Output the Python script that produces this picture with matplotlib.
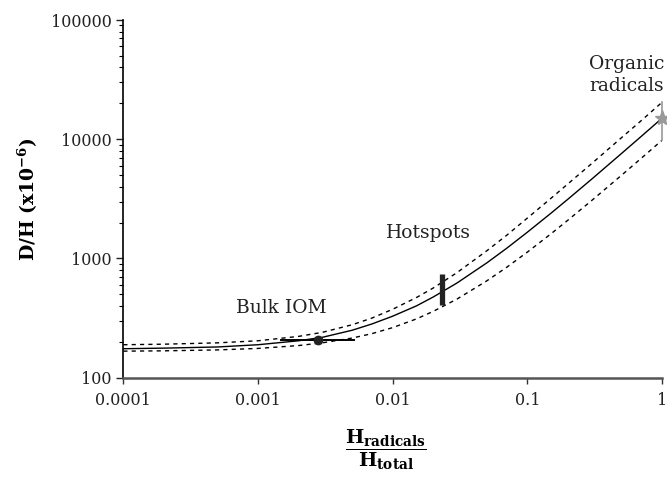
import numpy as np
import matplotlib
matplotlib.use('Agg')
import matplotlib.pyplot as plt

plt.rcParams['font.family'] = ['DejaVu Serif']
plt.rcParams['mathtext.fontset'] = 'dejavuserif'

# values
h_frac = [0.0001, 0.0002, 0.0005, 0.001, 0.002, 0.003, 0.005, 0.007, 0.01, 0.015,
          0.02, 0.03, 0.05, 0.07, 0.1, 0.15, 0.2, 0.3, 0.5, 0.7, 1.0]
dh_mix = [175, 177, 181, 189, 204, 218, 250, 282, 328, 400,
          475, 622, 918, 1214, 1660, 2400, 3140, 4620, 7590, 10550, 15000]
dh_upper = [189, 191, 196, 204, 222, 240, 278, 316, 375, 470,
            565, 760, 1160, 1560, 2180, 3200, 4220, 6240, 10300, 14300, 20400]
dh_lower = [167, 168, 171, 176, 186, 196, 215, 234, 263, 311,
            360, 456, 649, 841, 1130, 1612, 2094, 3057, 4984, 6910, 9800]

tick_vals = [0.0001, 0.001, 0.01, 0.1, 1]
tick_labels = ['0.0001', '0.001', '0.01', '0.1', '1']

# Bulk IOM point and its x range
iom_x, iom_y = 0.0028, 208
iom_xlo, iom_xhi = 0.00147, 0.0052

# Hotspots range
hot_x = 0.0233
hot_ylo, hot_yhi = 408, 736

# Organic radicals
rad_x, rad_y = 1.0, 15000
rad_ylo, rad_yhi = 9800, 20400

fig = plt.figure(figsize=(6.67, 4.79), dpi=100)
ax = fig.add_axes([0.1849, 0.2115, 0.8076, 0.7467])

ax.plot(h_frac, dh_mix, color='black', lw=1.0)
ax.plot(h_frac, dh_upper, color='black', lw=1.0, ls=(0, (3, 3)))
ax.plot(h_frac, dh_lower, color='black', lw=1.0, ls=(0, (3, 3)))

ax.plot([iom_xlo, iom_xhi], [iom_y, iom_y], color='black', lw=1.4)
ax.plot(iom_x, iom_y, 'o', color='#222222', ms=6)

ax.plot([hot_x, hot_x], [hot_ylo, hot_yhi], color='#222222', lw=3.8, solid_capstyle='butt')

ax.plot([rad_x, rad_x], [rad_ylo, rad_yhi], color='#999999', lw=1.2, clip_on=False)
ax.plot(rad_x, rad_y, '*', color='#999999', ms=11, clip_on=False)

ax.set_xscale('log')
ax.set_yscale('log')
ax.set_xlim(0.0001, 1)
ax.set_ylim(100, 100000)
ax.set_xticks(tick_vals)
ax.set_xticklabels(tick_labels)
ax.xaxis.set_minor_locator(matplotlib.ticker.NullLocator())
ax.set_yticks([100, 1000, 10000, 100000])
ax.set_yticklabels(['100', '1000', '10000', '100000'])

for s in ['top', 'right']:
    ax.spines[s].set_visible(False)
ax.spines['left'].set_color('black')
ax.spines['left'].set_linewidth(1.2)
ax.spines['bottom'].set_color('#555555')
ax.spines['bottom'].set_linewidth(1.8)

ax.tick_params(axis='both', which='major', labelsize=11.5, direction='out', length=5, width=1.0, colors='#222222')
ax.tick_params(axis='x', which='major', length=4, color='#333333')
ax.tick_params(axis='y', which='minor', direction='out', length=3, width=0.8)
ax.tick_params(axis='x', pad=6)

ax.set_ylabel(r'D/H (x10$^{\mathbf{-6}}$)', fontsize=13.5, fontweight='bold', labelpad=8)

ax.text(0.00148, 384, 'Bulk IOM', fontsize=13.5, ha='center', va='center', color='#222222')
ax.text(0.0183, 1637, 'Hotspots', fontsize=13.5, ha='center', va='center', color='#222222')
ax.text(0.548, 34600, 'Organic\nradicals', fontsize=13.5, ha='center', va='center',
        color='#222222', linespacing=1.3)

fig.text(386 / 667, 1 - 450 / 479,
         r'$\dfrac{\mathbf{H}_{\mathbf{radicals}}}{\mathbf{H}_{\mathbf{total}}}$',
         fontsize=14, ha='center', va='center')

fig.savefig('out.png', dpi=100)
